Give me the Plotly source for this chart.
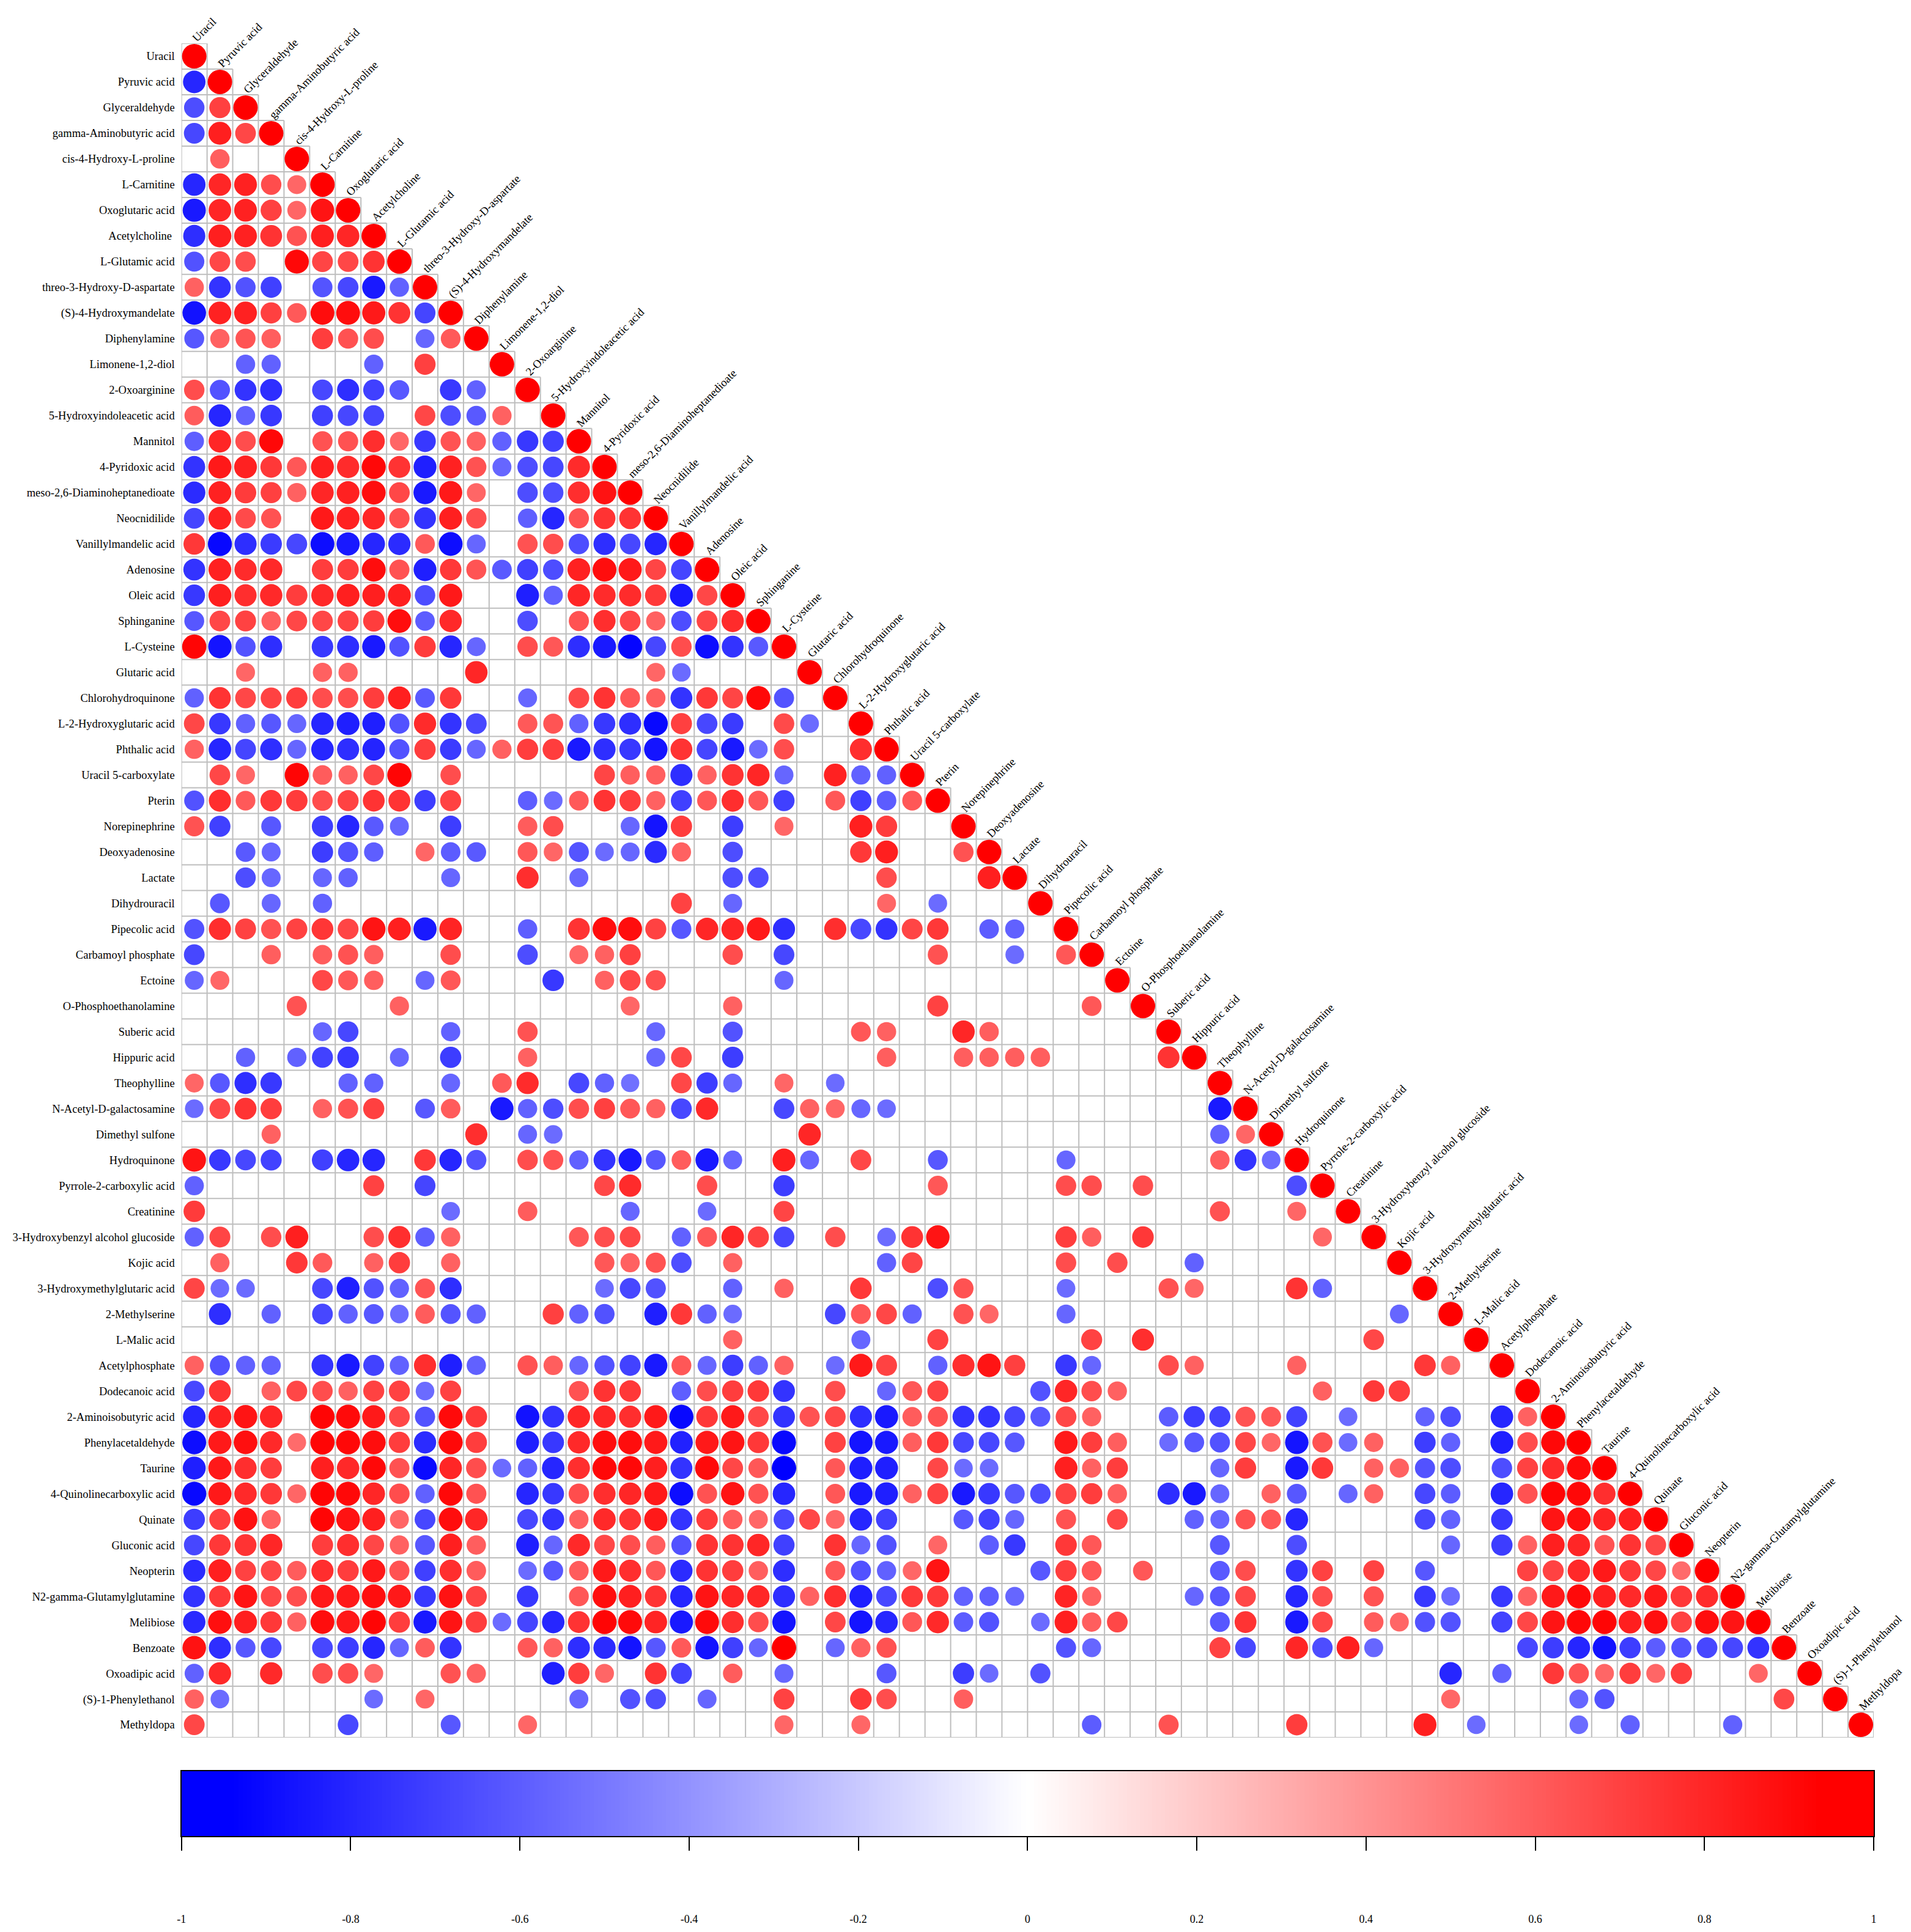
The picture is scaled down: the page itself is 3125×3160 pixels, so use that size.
import numpy as np
import plotly.graph_objects as go

names = ["Uracil","Pyruvic acid","Glyceraldehyde","gamma-Aminobutyric acid","cis-4-Hydroxy-L-proline","L-Carnitine","Oxoglutaric acid","Acetylcholine","L-Glutamic acid","threo-3-Hydroxy-D-aspartate","(S)-4-Hydroxymandelate","Diphenylamine","Limonene-1,2-diol","2-Oxoarginine","5-Hydroxyindoleacetic acid","Mannitol","4-Pyridoxic acid","meso-2,6-Diaminoheptanedioate","Neocnidilide","Vanillylmandelic acid","Adenosine","Oleic acid","Sphinganine","L-Cysteine","Glutaric acid","Chlorohydroquinone","L-2-Hydroxyglutaric acid","Phthalic acid","Uracil 5-carboxylate","Pterin","Norepinephrine","Deoxyadenosine","Lactate","Dihydrouracil","Pipecolic acid","Carbamoyl phosphate","Ectoine","O-Phosphoethanolamine","Suberic acid","Hippuric acid","Theophylline","N-Acetyl-D-galactosamine","Dimethyl sulfone","Hydroquinone","Pyrrole-2-carboxylic acid","Creatinine","3-Hydroxybenzyl alcohol glucoside","Kojic acid","3-Hydroxymethylglutaric acid","2-Methylserine","L-Malic acid","Acetylphosphate","Dodecanoic acid","2-Aminoisobutyric acid","Phenylacetaldehyde","Taurine","4-Quinolinecarboxylic acid","Quinate","Gluconic acid","Neopterin","N2-gamma-Glutamylglutamine","Melibiose","Benzoate","Oxoadipic acid","(S)-1-Phenylethanol","Methyldopa"]

# correlation x 100, lower triangle, row by row; 0 = blank (not significant)
R00=[100]
R01=[-85,100]
R02=[-70,75,100]
R03=[-72,88,72,100]
R04=[0,63,0,0,100]
R05=[-85,85,87,70,60,100]
R06=[-90,85,87,75,60,92,100]
R07=[-82,88,87,80,68,88,85,100]
R08=[-68,72,70,0,97,73,72,80,100]
R09=[62,-80,-68,-75,0,-67,-72,-90,-62,100]
R10=[-93,87,87,75,65,95,95,90,80,-73,100]
R11=[-66,62,67,63,0,76,68,70,0,-60,65,100]
R12=[0,0,-62,-62,0,0,0,-62,0,75,0,0,100]
R13=[70,-68,-80,-82,0,-72,-82,-75,-65,0,-78,-62,0,100]
R14=[64,-85,-62,-78,0,-75,-72,-73,0,72,-70,-65,62,0,100]
R15=[-63,85,70,97,0,68,68,82,60,-78,68,62,-62,-78,-75,100]
R16=[-80,90,87,78,66,88,83,97,80,-88,87,68,-60,-70,-72,83,100]
R17=[-83,87,77,75,62,85,87,95,72,-90,90,60,0,-70,-70,82,93,100]
R18=[-73,87,71,68,0,90,87,85,69,-80,88,70,0,-63,-85,68,80,80,100]
R19=[78,-97,-82,-77,-72,-95,-90,-85,-83,65,-95,-60,0,68,70,-70,-82,-72,-85,100]
R20=[-80,87,83,84,0,76,76,95,68,-88,78,67,-65,-75,-70,87,95,90,73,-73,100]
R21=[-78,88,82,84,76,84,88,88,88,-70,90,0,0,-88,-62,85,83,83,78,-90,72,100]
R22=[-66,72,74,63,72,72,74,76,95,-64, 84,0,0,-70,0,68,82,72,62,-70, 73,83,100]
R23=[98,-92,-68,-82,0,-78,-82,-90,-68,77, -85,-60,0,70,66,-82,-90,-98,-72,70, -95,-80,-65,100]
R24=[0,0,60,0,0,62,62,0,0,0, 0,85,0,0,0,0,0,0,60,-58, 0,0,0,0,100]
R25=[-62,80,72,74,76,70,70,76,88,-65, 78,0,0,-60,0,72,80,66,63,-80, 78,73,97,-68,0,100]
R26=[72,-78,-62,-66,-60,-85,-88,-88,-68,83, -80,-72,0,65,67,-62,-78,-82,-97,75, -72,-77,0,71,-58,0,100]
R27=[62,-85,-73,-82,-60,-85,-82,-86,-68,76, -77,-60,62,76,76,-90,-82,-78,-92,80, -73,-90,-58,70,0,0,82,100]
R28=[0,72,60,0,98,64,62,72,98,0, 70,0,0,0,0,0,73,63,63,-82, 62,80,85,-60,0,87,-62,-62,100]
R29=[-68,82,65,78,77,70,74,80,80,-76, 74,0,0,-63,-58,65,80,76,62,-75, 66,82,66,-75,0,66,-75,-64,66,100]
R30=[68,-75,0,-66,0,-76,-85,-65,-60,0, -76,0,0,64,70,0,0,-60,-92,76, 0,-76,0,60,0,0,88,76,0,0, 100]
R31=[0,0,-65,-60,0,-76,-68,-63,0,60, -64,-65,0,66,60,-67,-58,-60,-83,62, 0,-70,0,0,0,0,78,88,0,0, 68,100]
R32=[0,0,-70,-60,0,-60,-62,0,0,0, -60,0,0,82,0,-60,0,0,0,0, 0,-70,-70,0,0,0,0,70,0,0, 0,88,100]
R33=[0,-66,0,-60,0,-62,0,0,0,0, 0,0,0,0,0,0,0,0,0,74, 0,-60,0,0,0,0,0,60,0,-58, 0,0,0,100]
R34=[-68,82,74,68,74,79,73,92,88,-90, 86,0,0,-63,0,80,95,95,74,-66, 85,85,90,-82,0,82,-72,-80,73,78, 0,-64,-62,0,100]
R35=[-72,0,0,63,0,64,68,63,0,0, 70,0,0,-70,0,60,62,75,0,0, 0,70,0,-72,0,0,0,0,0,68, 0,0,-58,0,66,100]
R36=[-60,60,0,0,0,72,66,63,0,-60, 66,0,0,0,-78,0,62,72,69,0, 0,0,0,-60,0,0,0,0,0,0, 0,0,0,0,0,0,100]
R37=[0,0,0,0,68,0,0,0,62,0, 0,0,0,0,0,0,0,60,0,0, 0,62,0,0,0,0,0,0,0,74, 0,0,0,0,0,66,0,100]
R38=[0,0,0,0,0,-60,-72,0,0,0, -62,0,0,68,0,0,0,0,-60,0, 0,-68,0,0,0,0,66,62,0,0, 85,63,0,0,0,0,0,0,100]
R39=[0,0,-62,0,-62,-74,-78,0,-60,0, -76,0,0,62,0,0,0,0,-60,72, 0,-76,0,0,0,0,0,63,0,0, 63,63,63,63,0,0,0,0,80,100]
R40=[60,-66,-82,-78,0,0,-62,-62,0,0, -60,0,65,83,0,-72,-62,-56,0,72, -76,-60,0,60,0,-58,0,0,0,0, 0,0,0,0,0,0,0,0,0,0, 100]
R41=[-58,72,80,76,0,62,68,75,0,-66, 64,0,-90,-62,-70,70,75,66,62,-72, 84,0,0,-72,62,60,-60,-58,0,0, 0,0,0,0,0,0,0,0,0,0, -90,100]
R42=[0,0,0,62,0,0,0,0,0,0, 0,82,0,-60,-58,0,0,0,0,0, 0,0,0,0,85,0,0,0,0,0, 0,0,0,0,0,0,0,0,0,0, -62,60,100]
R43=[92,-78,-72,-74,0,-75,-85,-85,0,78, -85,-68,0,70,68,-62,-80,-90,-66,64, -90,-60,0,88,-60,0,72,0,0,-66, 0,0,0,0,-60,0,0,0,0,0, 63,-80,-58,100]
R44=[-62,0,0,0,0,0,0,74,0,-73, 0,0,0,0,0,0,72,83,0,0, 70,0,0,-76,0,0,0,0,0,66, 0,0,0,0,70,70,0,70,0,0, 0,0,0,-70,100]
R45=[77,0,0,0,0,0,0,0,0,0, -58,0,0,64,0,0,0,-60,0,0, -58,0,0,73,0,0,0,0,0,0, 0,0,0,0,0,0,0,0,0,0, 68,0,0,60,0,100]
R46=[-62,73,0,70,88,0,0,70,82,-63, 62,0,0,0,0,66,70,72,0,-62, 66,85,75,-72,0,70,0,-58,80,92, 0,0,0,0,76,63,0,78,0,0, 0,0,0,0,60,0,100]
R47=[0,62,0,0,78,65,0,62,76,0, 62,0,0,0,0,0,66,62,68,-70, 0,62,0,0,0,0,0,-62,73,0, 0,0,0,0,70,0,70,0,0,-62, 0,0,0,0,0,0,0,100]
R48=[73,-58,-58,0,0,-72,-88,-68,-62,67, -82,0,0,0,0,0,-58,-72,-68,0, 0,-62,0,62,0,0,78,0,0,-70, 68,0,0,0,-58,0,0,0,68,60, 0,0,0,80,-62,0,0,0,100]
R49=[0,-82,0,-62,0,-72,-62,-66,-58,64, -67,-62,0,0,75,-62,-68,0,-88,78, -62,-58,0,0,0,-72,66,72,-62,0, 68,60,0,0,-60,0,0,0,0,0, 0,0,0,0,0,0,0,-60,0,100]
R50=[0,0,0,0,0,0,0,0,0,0, 0,0,0,0,0,0,0,0,0,0, 0,62,0,0,0,0,-60,0,0,74, 0,0,0,0,0,74,0,82,0,0, 0,0,0,0,0,0,72,0,0,0, 100]
R51=[62,-68,-62,-62,0,-80,-90,-74,-62,82, -88,-62,0,68,63,-60,-68,-74,-90,66, -60,-76,-62,62,0,-58,90,74,0,-62, 82,92,75,0,-78,-60,0,0,70,62, 0,0,0,62,0,0,0,0,78,62, 0,100]
R52=[-72,80,0,62,72,70,62,74,74,-58, 74,0,0,0,0,68,80,78,0,-63, 70,76,78,-80,0,70,0,-60,66,74, 0,0,0,-68,85,70,62,0,0,0, 0,0,0,0,62,0,78,76,0,0, 0,0,100]
R53=[-85,87,92,85,0,98,96,90,72,-68, 96,78,0,-93,-80,85,85,82,90,-97, 78,90,72,-80,68,72,-82,-90,64,68, -80,-80,-73,-66,72,62,0,0,-64,-76, -74,68,66,-74,0,-58,0,0,-62,-70, 0,-85,62,100]
R54=[-95,90,94,84,58,98,97,95,76,-83, 97,76,0,-88,-78,84,95,95,90,-87, 90,92,78,-97,0,74,-92,-90,63,78, -72,-72,-66,0,90,76,63,0,-58,-66, -68,72,60,-92,68,-58,62,0,-76,-62, 0,-88,70,97,100]
R55=[-88,90,82,76,0,88,84,97,68,-96, 85,70,-58,-62,-85,82,97,97,88,-80, 96,72,66,-100,0,66,-88,-88,0,72, -58,-58,0,0,88,62,76,0,0,0, -60,76,0,-90,78,0,62,62,-68,-70, 0,-70,74,83,96,100]
R56=[-97,90,84,78,60,98,97,85,70,-62, 97,68,0,-85,-78,70,82,85,90,-95, 68,92,68,-85,0,66,-90,-88,62,74, -90,-78,-66,-70,74,76,63,0,-82,-90, -60,0,62,-66,0,-60,62,0,-72,-64, 0,-85,68,98,97,82,100]
R57=[-76,75,93,62,0,98,93,88,60,-72, 95,85,0,-72,-80,62,84,80,90,-80, 77,64,60,-72,72,60,-85,-75,0,0, -66,-74,-60,0,68,0,72,0,0,-62, -60,68,66,-85,0,0,0,0,-72,-62, 0,-78,0,92,94,86,88,100]
R58=[-72,78,80,85,0,76,82,72,62,-66, 88,63,0,-88,-60,84,72,70,63,-68, 80,80,85,-75,0,80,-60,-68,0,60, 0,-64,-78,0,78,66,0,0,0,0, -66,0,0,-70,0,0,0,0,0,-60, 0,-76,62,88,85,68,80,72,100]
R59=[-83,88,74,72,64,82,76,90,68,-75, 82,64,0,-58,-66,64,90,82,66,-83, 80,76,63,-82,0,66,-68,-62,60,92, 0,0,0,-66,76,66,0,66,0,0, -65,70,0,-80,74,0,74,0,-66,0, 0,0,74,74,84,90,78,72,58,100]
R60=[-80,78,92,72,70,90,90,95,90,-78, 93,74,0,-78,0,66,95,88,80,-85, 92,85,85,-82,62,82,-88,-72,78,78, -62,-63,-60,0,86,62,0,0,0,-60, -66,72,0,-85,70,0,68,0,-78,-58, 0,-78,62,90,96,88,84,90,78,83, 100]
R61=[-84,94,88,78,62,95,90,98,76,-90, 92,76,-58,-73,-85,80,98,96,86,-90, 96,82,70,-92,0,72,-92,-85,66,84, -64,-68,0,-58,88,63,72,0,0,0, -66,80,0,-90,72,0,64,60,-68,-68, 0,-74,72,92,97,98,88,94,74,95, 92,100]
R62=[93,-82,-66,-72,0,-72,-76,-85,-60,64, -80,0,0,66,62,-82,-83,-92,-66,65, -92,-75,-60,100,0,-60,62,68,0,0, 0,0,0,0,-68,-60,0,0,0,0, 74,-72,0,85,-70,88,-60,0,0,0, 0,0,-72,-76,-85,-93,-76,-64,-68,-72, -72,-80,100]
R63=[-62,84,0,84,0,70,70,60,0,0, 68,62,0,0,-88,76,60,0,80,-74, 0,64,0,-60,0,0,0,-66,0,0, -76,-58,0,-68,0,0,0,0,0,0, 0,0,0,0,0,0,0,0,0,-85, 0,-62,0,78,68,60,76,60,76,0, 0,60,0,100]
R64=[62,-58,0,0,0,0,0,-58,0,60, 0,0,0,0,0,-60,0,-68,-70,0, -60,0,0,74,0,0,78,70,0,0, 63,0,0,0,0,0,0,0,0,0, 0,0,0,0,0,0,0,0,0,60, 0,0,0,0,-60,-68,0,0,0,0, 0,0,72,0,100]
R65=[72,0,0,0,0,0,-72,0,0,0, -66,0,0,60,0,0,0,0,0,0, 0,0,0,60,0,0,60,0,0,0, 0,0,0,0,0,-64,0,0,68,0, 0,0,0,76,0,0,0,0,88,0, -58,0,0,0,-58,0,-62,0,0,0, -62,0,0,0,0,100]

rows = [R00,R01,R02,R03,R04,R05,R06,R07,R08,R09,R10,R11,R12,R13,R14,R15,R16,R17,R18,R19,R20,R21,R22,R23,R24,R25,R26,R27,R28,R29,R30,R31,R32,R33,R34,R35,R36,R37,R38,R39,R40,R41,R42,R43,R44,R45,R46,R47,R48,R49,R50,R51,R52,R53,R54,R55,R56,R57,R58,R59,R60,R61,R62,R63,R64,R65]
for i, r in enumerate(rows):
    assert len(r) == i + 1, (i, len(r))

cbar_ticks = [-1,-0.8,-0.6,-0.4,-0.2,0,0.2,0.4,0.6,0.8,1]
cbar_labels = ["-1","-0.8","-0.6","-0.4","-0.2","0","0.2","0.4","0.6","0.8","1"]

W, H = 3125, 3160
GL, GR, GT, GB = 296.7, 3064.0, 71.0, 2842.0
BT, BB = 2897.0, 3003.0
FONT = "Liberation Serif"
N = len(names)

xs, ys, vals = [], [], []
for i, r in enumerate(rows):
    for j, v in enumerate(r):
        if v != 0:
            xs.append(j); ys.append(i); vals.append(v / 100)
vals = np.array(vals)
sizes = 40.0 * np.sqrt(np.abs(vals))

gx, gy = [], []
for i in range(N + 1):
    gx += [-0.5, min(i, N - 1) + 0.5, None]; gy += [i - 0.5, i - 0.5, None]
    gx += [i - 0.5, i - 0.5, None]; gy += [max(i - 1, 0) - 0.5, N - 0.5, None]

circle_scale = [[0, "#0000ff"], [0.5, "#ffffff"], [1, "#ff0000"]]
bar_scale = [[0, "#0000ff"], [0.03, "#0000ff"], [0.5, "#ffffff"], [0.97, "#ff0000"], [1, "#ff0000"]]

fig = go.Figure()
fig.add_trace(go.Scatter(x=gx, y=gy, mode="lines", line=dict(color="#bebebe", width=2),
                         hoverinfo="skip", showlegend=False, cliponaxis=False))
fig.add_trace(go.Scatter(x=xs, y=ys, mode="markers", showlegend=False, cliponaxis=False,
                         marker=dict(size=sizes, sizemode="diameter", color=vals, opacity=1,
                                     coloraxis="coloraxis", line=dict(width=0))))
levels = np.linspace(-1, 1, 401)
fig.add_trace(go.Heatmap(x=levels, y=[0, 1], z=[levels, levels], coloraxis="coloraxis2",
                         xaxis="x2", yaxis="y2", showlegend=False, hoverinfo="skip"))

annots = []
for j, nm in enumerate(names):
    annots.append(dict(x=j - 0.24, y=j - 0.5, yshift=-4, xref="x", yref="y", text=nm, showarrow=False,
                       textangle=-45, xanchor="left", yanchor="bottom",
                       font=dict(family=FONT, size=18.5, color="black")))

row_text = [n + "\u00a0" if n == "Acetylcholine" else n for n in names]

fig.update_layout(
    width=W, height=H, margin=dict(l=0, r=0, t=0, b=0, autoexpand=False),
    paper_bgcolor="white", plot_bgcolor="white",
    coloraxis=dict(colorscale=circle_scale, cmin=-1, cmax=1, showscale=False),
    coloraxis2=dict(colorscale=bar_scale, cmin=-1, cmax=1, showscale=False),
    annotations=annots,
    xaxis=dict(domain=[GL / W, GR / W], range=[-0.5, N - 0.5], showgrid=False, zeroline=False,
               showticklabels=False, ticks=""),
    yaxis=dict(domain=[1 - GB / H, 1 - GT / H], range=[N - 0.5, -0.5], showgrid=False, zeroline=False,
               tickmode="array", tickvals=list(range(N)), ticktext=row_text, ticks="",
               ticklabelstandoff=10, tickfont=dict(family=FONT, size=18.5, color="black")),
    xaxis2=dict(domain=[GL / W, GR / W], range=[-1, 1], anchor="y2", showgrid=False, zeroline=False,
                tickmode="array", tickvals=cbar_ticks, ticktext=cbar_labels, ticks="outside",
                ticklen=22, tickwidth=2, tickcolor="black", showline=True, linecolor="black",
                linewidth=2, mirror=True, ticklabelstandoff=96, tickangle=0,
                tickfont=dict(family=FONT, size=18, color="black")),
    yaxis2=dict(domain=[1 - BB / H, 1 - BT / H], range=[0, 1], anchor="x2", showgrid=False, zeroline=False,
                showticklabels=False, ticks="", showline=True, linecolor="black", linewidth=2, mirror=True),
)

fig.write_html("out.html", config={"displayModeBar": False}, post_script="document.body.style.margin='0';")
